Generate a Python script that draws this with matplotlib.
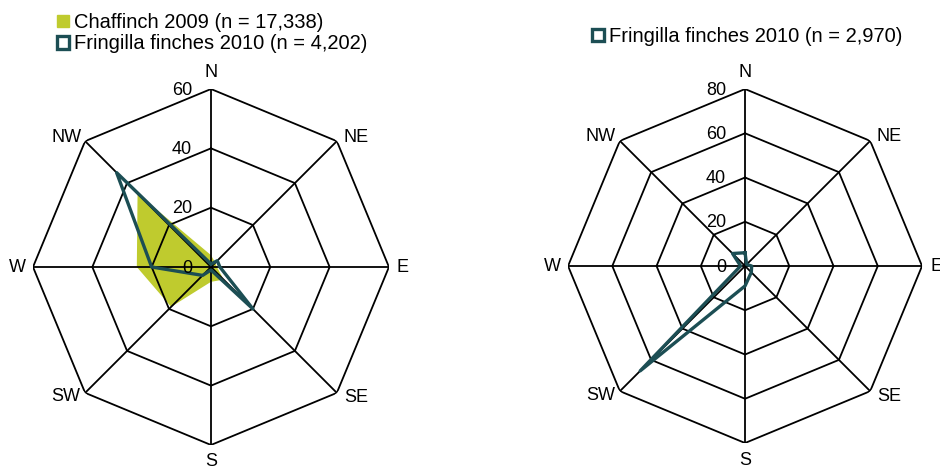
"""Flight direction roses: chaffinch 2009 vs Fringilla finches 2010 (two sites)."""

import matplotlib

matplotlib.use("Agg")
import matplotlib.pyplot as plt
import numpy as np
from matplotlib.patches import Patch

plt.rcParams["font.family"] = ["Liberation Sans", "DejaVu Sans"]

directions = ["N", "NE", "E", "SE", "S", "SW", "W", "NW"]

# percentage of birds per heading
left_chaffinch_2009 = [4, 2, 2, 6, 5, 19, 25, 35]
left_fringilla_2010 = [1, 3, 3, 20, 1, 4, 20, 45]
right_fringilla_2010 = [6, 1, 3, 4, 9, 67, 2, 8]

left_rings = [20, 40, 60]
right_rings = [20, 40, 60, 80]

FILL = "#BFCB2E"
TEAL = "#1C4E54"

# pixel offsets of the compass labels from the outer vertices
_LABEL_OFFSETS = {
    "N": (0, 17), "NE": (19, 4), "E": (14, 0), "SE": (19, -5),
    "S": (0, -17), "SW": (-19, -4), "W": (-16, 0), "NW": (-19, 4),
}

theta = np.deg2rad(np.arange(0, 360, 45))
theta_closed = np.append(theta, theta[0])


def closed(values):
    return np.append(values, values[0])


def rose(ax, rings):
    rmax = rings[-1]
    ax.set_theta_zero_location("N")
    ax.set_theta_direction(-1)
    ax.set_ylim(0, rmax)
    ax.grid(False)
    ax.spines["polar"].set_visible(False)
    ax.set_xticks([])
    ax.set_yticks([])
    ax.patch.set_alpha(0)
    for r in rings:
        ax.plot(theta_closed, [r] * len(theta_closed), color="black", lw=1.3, zorder=3)
    for t in theta:
        ax.plot([t, t], [0, rmax], color="black", lw=1.3, zorder=3)
    for r in [0] + rings:
        ax.annotate(str(r), xy=(0, r), xytext=(-19, -1), textcoords="offset pixels",
                    ha="right", va="center", fontsize=13, zorder=5)
    for t, name in zip(theta, directions):
        ax.annotate(name, xy=(t, rmax), xytext=_LABEL_OFFSETS[name],
                    textcoords="offset pixels", ha="center", va="center",
                    fontsize=13, annotation_clip=False)


fig = plt.figure(figsize=(9.4, 4.69), dpi=100)

ax1 = fig.add_axes([0.0351, 0.0512, 0.3787, 0.759], projection="polar")
rose(ax1, left_rings)
ax1.fill(theta_closed, closed(left_chaffinch_2009), color=FILL, lw=0, zorder=2)
ax1.plot(theta_closed, closed(left_fringilla_2010), color=TEAL, lw=2.4, zorder=4)

ax2 = fig.add_axes([0.6043, 0.0554, 0.3766, 0.7548], projection="polar")
rose(ax2, right_rings)
ax2.plot(theta_closed, closed(right_fringilla_2010), color=TEAL, lw=2.4, zorder=4)

legend_kw = dict(frameon=False, fontsize=14.5, handlelength=0.6, handleheight=0.6,
                 handletextpad=0.25, labelspacing=0.12, borderaxespad=0, borderpad=0)
fig.legend(handles=[Patch(facecolor=FILL, edgecolor=FILL, label="Chaffinch 2009 (n = 17,338)"),
                    Patch(facecolor="white", edgecolor=TEAL, lw=2.4,
                          label="Fringilla finches 2010 (n = 4,202)")],
           loc="upper left", bbox_to_anchor=(57 / 940, 1 - 13 / 469), **legend_kw)
fig.legend(handles=[Patch(facecolor="white", edgecolor=TEAL, lw=2.4,
                          label="Fringilla finches 2010 (n = 2,970)")],
           loc="upper left", bbox_to_anchor=(592 / 940, 1 - 27 / 469), **legend_kw)

fig.savefig("out.png", dpi=100)
